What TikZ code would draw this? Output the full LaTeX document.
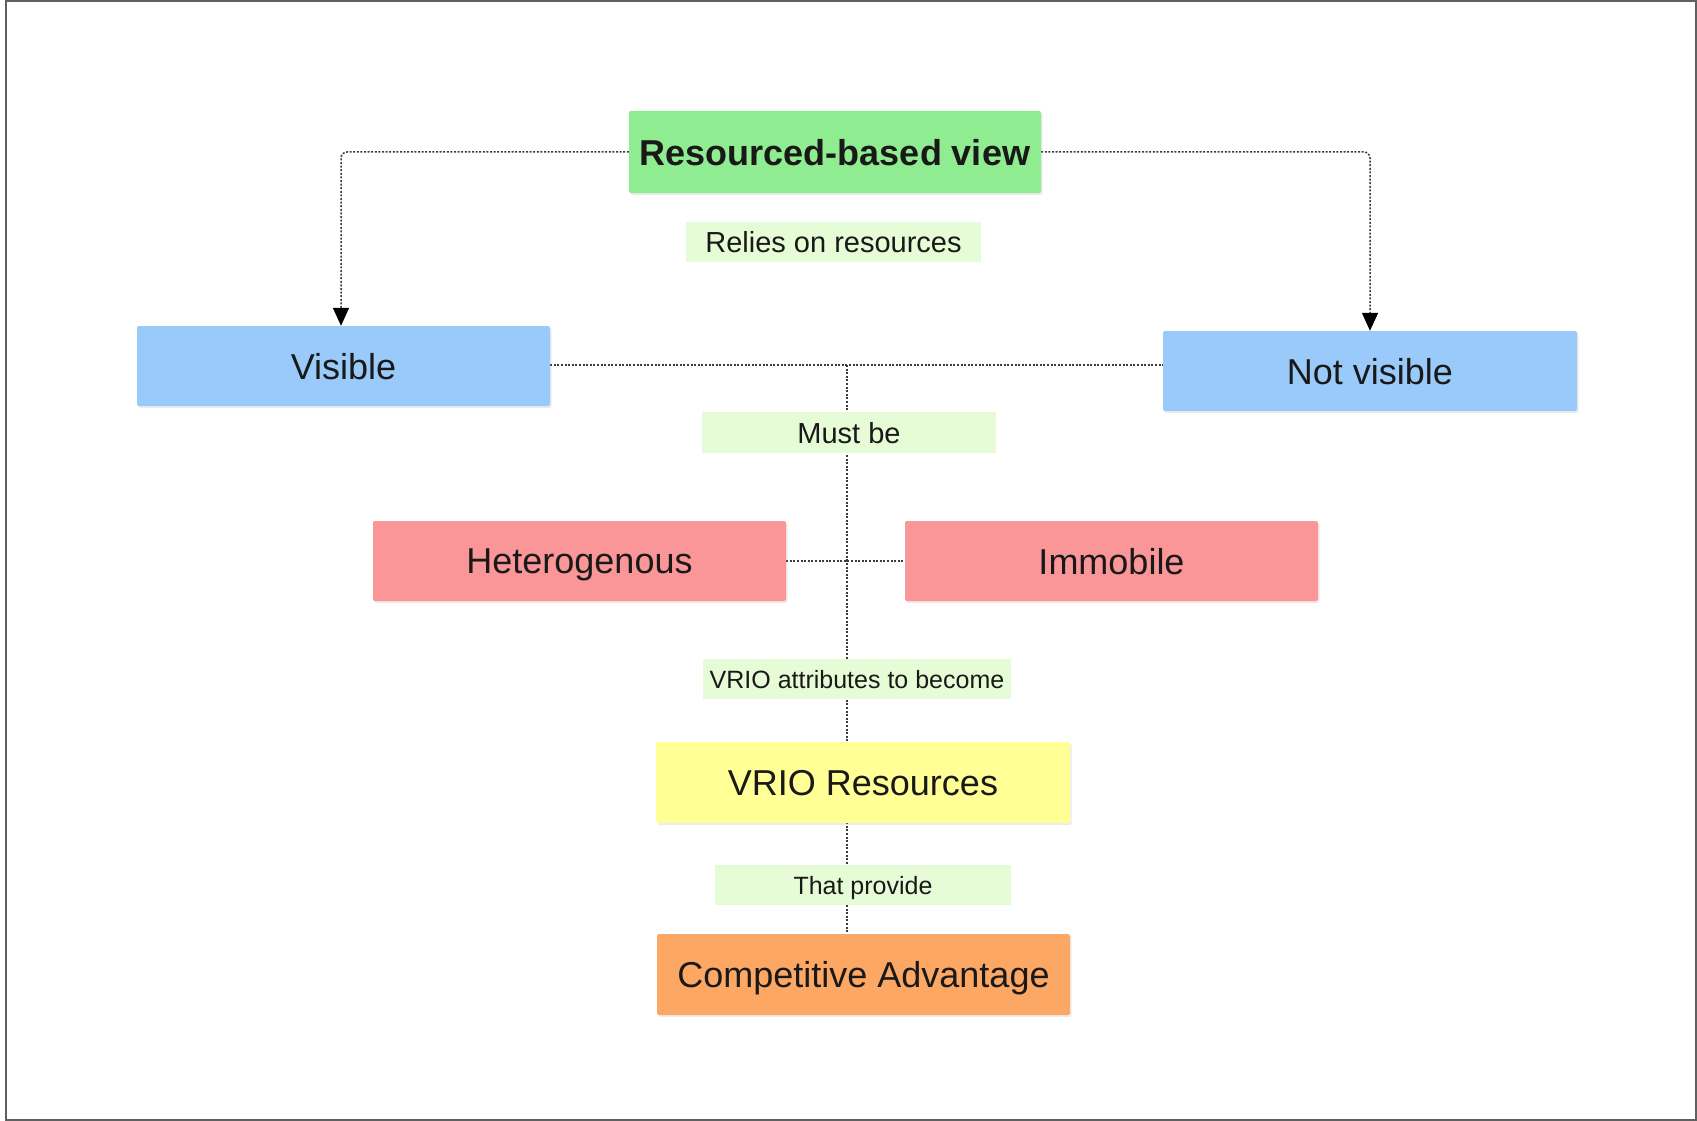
\documentclass[tikz,border=0pt]{standalone}
\usepackage{fontspec}
\setmainfont{Liberation Sans}
\usetikzlibrary{arrows.meta,backgrounds,shadows}
\definecolor{cgreen}{RGB}{144,236,144}
\definecolor{cblue}{RGB}{153,202,250}
\definecolor{cred}{RGB}{250,150,152}
\definecolor{cyellow}{RGB}{255,255,150}
\definecolor{corange}{RGB}{252,168,100}
\definecolor{clabel}{RGB}{230,252,214}
\definecolor{cline}{RGB}{60,60,60}
\definecolor{ctext}{RGB}{25,25,25}
\begin{document}
\begin{tikzpicture}[x=1pt,y=-1pt,
  box/.style={rectangle,rounded corners=2pt,inner sep=0pt,minimum width=413pt,minimum height=80pt,
    text=ctext,font=\fontsize{36}{43}\selectfont,text depth=0pt,
    drop shadow={opacity=0.15,shadow xshift=1.5pt,shadow yshift=-2pt}},
  lab/.style={rectangle,inner sep=0pt,fill=clabel,text=ctext,minimum height=40pt,text depth=0pt},
  conn/.style={draw=cline,line width=1.5pt,dash pattern=on 2pt off 1.6pt},
  tip/.style={-{Triangle[width=16pt,length=18pt,color=black,fill=black]}}
]
\useasboundingbox (0,0) rectangle (1697,1121);

\node[box,fill=cgreen,minimum width=412pt,minimum height=82pt,font=\fontsize{36}{43}\selectfont\bfseries] (rbv) at (835,152) {Resourced-based view};
\node[lab,minimum width=295pt,font=\fontsize{29}{35}\selectfont] (rel) at (833.5,241.5) {Relies on resources};
\node[box,fill=cblue] (vis) at (343.5,366) {Visible};
\node[box,fill=cblue,minimum width=414pt] (nv) at (1370,371) {Not visible};
\node[lab,minimum width=294pt,minimum height=41pt,font=\fontsize{29}{35}\selectfont] (must) at (849,432.5) {Must be};
\node[box,fill=cred] (het) at (579.5,561) {Heterogenous};
\node[box,fill=cred] (imm) at (1111.5,561) {Immobile};
\node[lab,minimum width=308pt,font=\fontsize{25}{30}\selectfont] (attr) at (857,679) {VRIO attributes to become};
\node[box,fill=cyellow,minimum width=414pt,minimum height=81pt] (vres) at (863,782.5) {VRIO Resources};
\node[lab,minimum width=296pt,font=\fontsize{25}{30}\selectfont] (prov) at (863,885) {That provide};
\node[box,fill=corange,minimum height=81pt] (ca) at (863.5,974.5) {Competitive Advantage};

\coordinate (jtop) at (847,365);
\coordinate (jmid) at (847,561);
\coordinate (jbot) at (847,934);
\coordinate (lcorner) at (341,152);
\coordinate (rcorner) at (1370,152);

\begin{pgfonlayer}{background}
\fill[white] (0,0) rectangle (1697,1121);
\draw[gray!75!black,line width=2pt] (6,1.5) rectangle (1695.5,1119.5);
\draw[conn,tip,rounded corners=6pt] (rbv.west) -- (lcorner) -- (vis.north -| lcorner);
\draw[conn,tip,rounded corners=6pt] (rbv.east) -- (rcorner) -- (nv.north);
\draw[conn] (vis.east |- jtop) -- (nv.west |- jtop);
\draw[conn] (het.east) -- (imm.west);
\draw[conn] (jtop) -- (jmid) -- (jbot);
\end{pgfonlayer}
\end{tikzpicture}
\end{document}
